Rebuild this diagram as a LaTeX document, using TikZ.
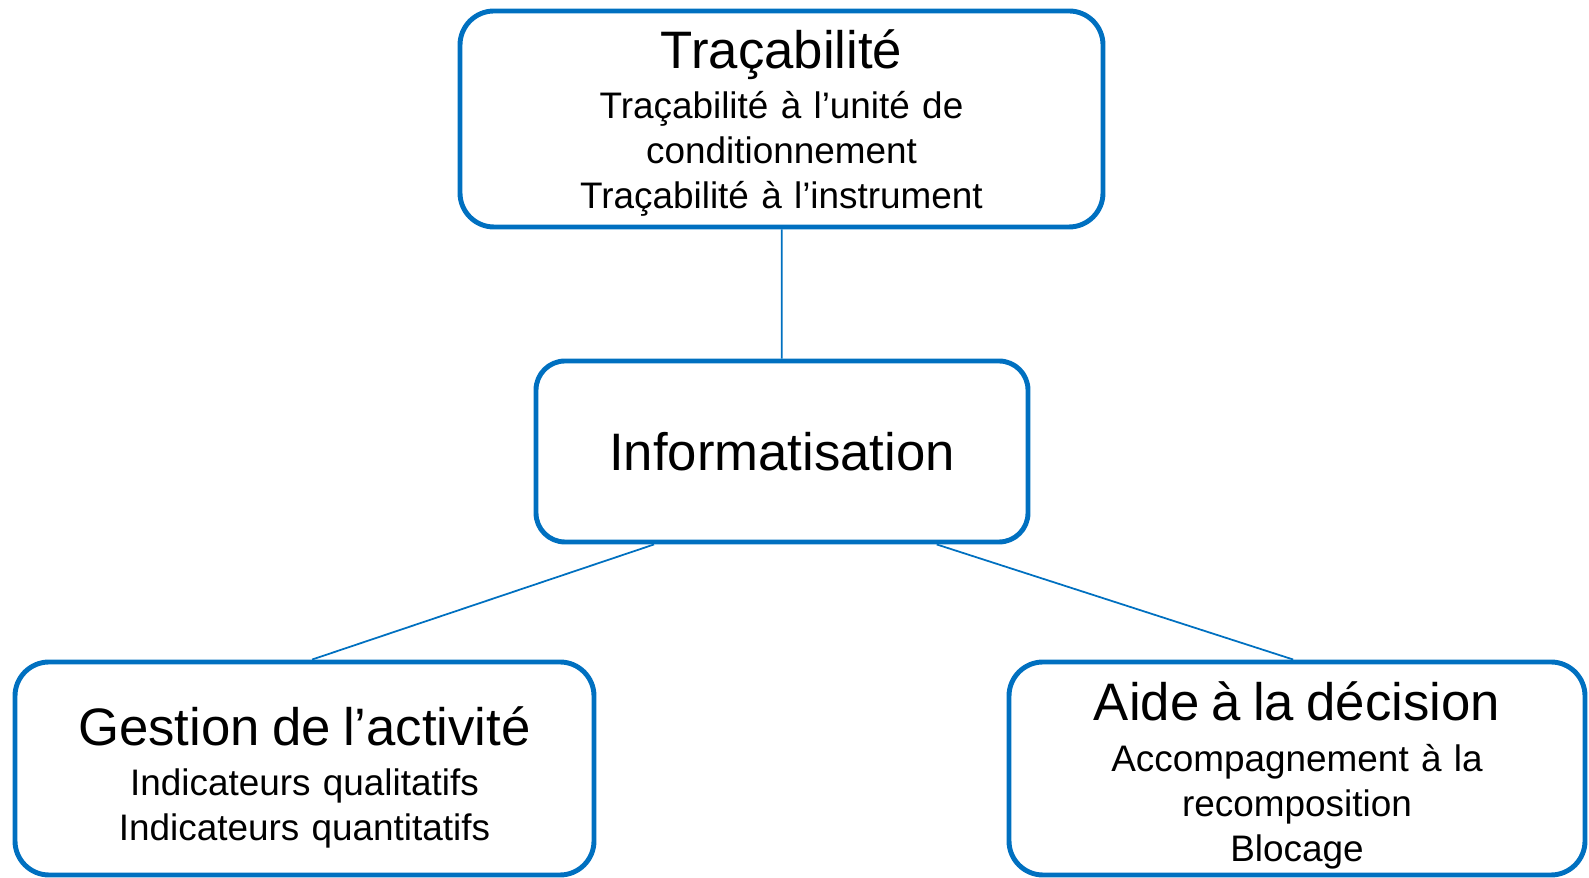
\documentclass[tikz,border=0pt]{standalone}
\usepackage{fontspec}
\setmainfont{Liberation Sans}
\usepackage{xcolor}
\definecolor{bleu}{RGB}{0,112,192}
\newcommand{\grand}{\fontsize{30}{34}\selectfont}
\newcommand{\petit}{\fontsize{21}{25.6}\selectfont}
\tikzset{bloc/.style={draw=bleu, line width=2.8pt, rounded corners=0.68cm, align=center, inner sep=0pt, font=\petit}}
\tikzset{lien/.style={draw=bleu, line width=1pt}}

\begin{document}
\begin{tikzpicture}
  \useasboundingbox (0,0) rectangle (31.78,17.56);

  \node[bloc, minimum width=12.86cm, minimum height=4.32cm, text width=12cm] (trac) at (15.63,15.18)
    {\rule{0pt}{27pt}{\grand Traçabilité}\\[3pt]Traçabilité à l’unité de\\conditionnement\\Traçabilité à l’instrument};
  \node[bloc, minimum width=9.84cm, minimum height=3.62cm, rounded corners=0.58cm, font=\grand] (info) at (15.64,8.53)
    {Informatisation};
  \node[bloc, minimum width=11.58cm, minimum height=4.26cm, text width=11cm] (gest) at (6.09,2.19)
    {\rule{0pt}{32pt}{\grand Gestion de l’activité}\\[3pt]Indicateurs qualitatifs\\Indicateurs quantitatifs};
  \node[bloc, minimum width=11.52cm, minimum height=4.26cm, text width=11cm] (aide) at (25.94,2.19)
    {\rule{0pt}{30pt}{\grand Aide à la décision}\\[3pt]Accompagnement à la\\recomposition\\Blocage};

  \draw[lien] (trac) -- (info);
  \draw[lien] (info.216) -- (gest.86);
  \draw[lien] (info.329) -- (aide.92);
\end{tikzpicture}
\end{document}
